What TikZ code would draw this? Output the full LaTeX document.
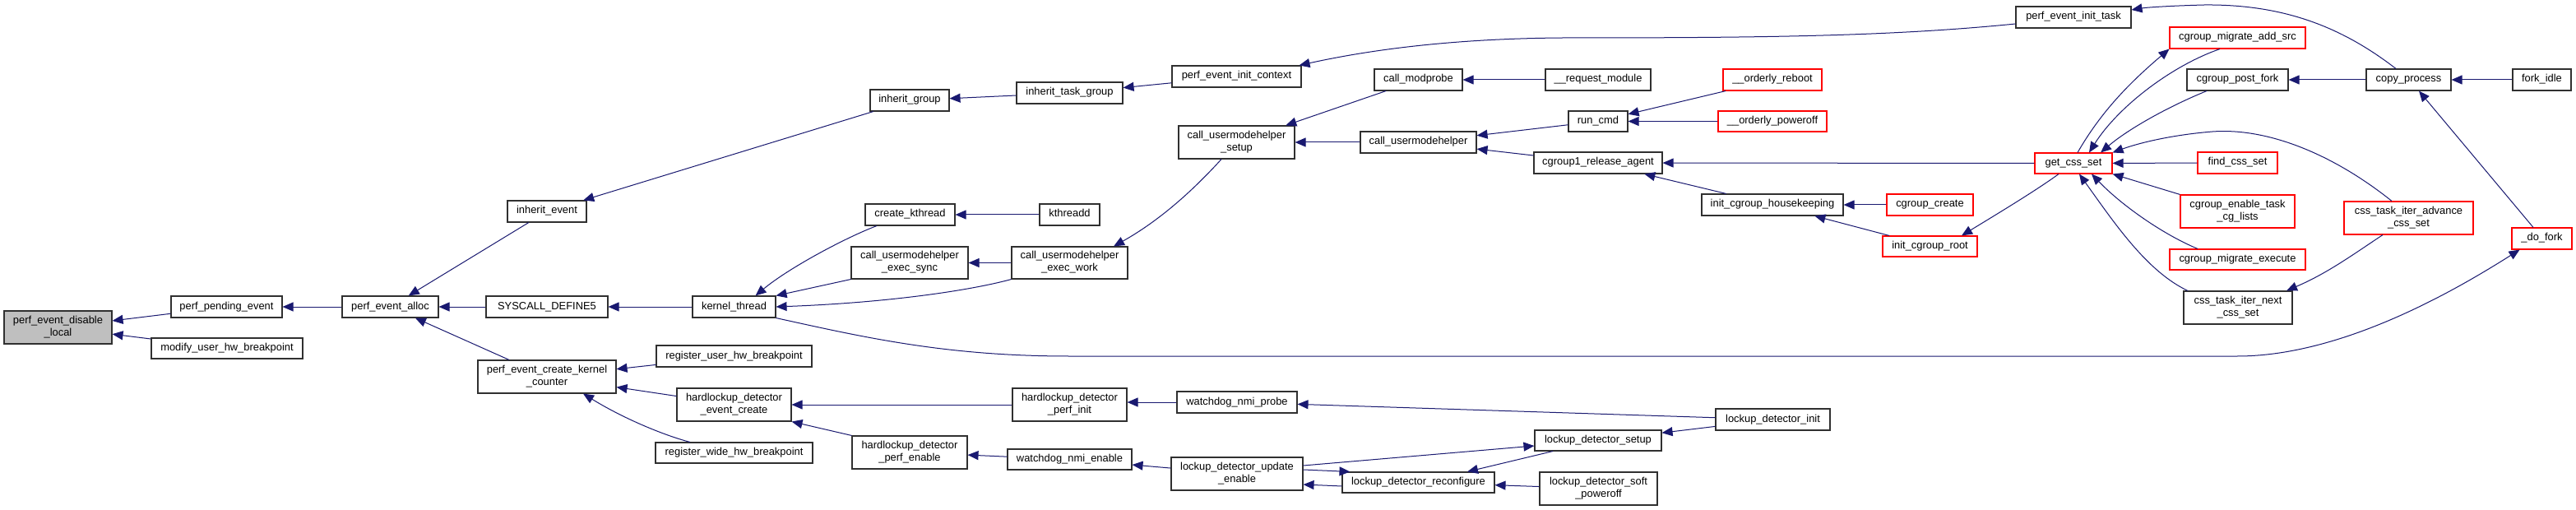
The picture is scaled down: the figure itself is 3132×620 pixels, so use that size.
\documentclass[tikz,border=0pt]{standalone}
\usepackage{fontspec}
\setmainfont{Liberation Sans}
\usetikzlibrary{arrows.meta,calc}
\definecolor{edgec}{HTML}{191970}
\definecolor{rootfill}{HTML}{BFBFBF}
\definecolor{boxline}{HTML}{303030}
\definecolor{redline}{HTML}{FF0000}
\newcommand\bx[7][]{%
  \node[box,#1,minimum width={(#5-#3)*1pt},minimum height={(#6-#4)*1pt}] (#2) at ({(#3+#5)/2},{(#4+#6)/2}) {\strut #7};}
\tikzset{
  box/.style={draw=boxline,fill=white,line width=1.1pt,inner sep=0pt,align=center,
    font=\fontsize{12.9}{15}\selectfont},
  root/.style={fill=rootfill},
  redbox/.style={draw=redline},
  arr/.style={draw=edgec,line width=1pt,-{Triangle[length=13pt,width=11pt]}}
}
\begin{document}
\begin{tikzpicture}[x=1pt,y=-1pt]
\useasboundingbox (0,0) rectangle (3132,620);
\fill[white] (0,0) rectangle (3132,620);
% nodes
\bx[root]{pedl}{5}{378}{136}{418}{perf\_event\_disable\\\strut\_local}
\bx{ppe}{208}{360}{343}{386}{perf\_pending\_event}
\bx{muhb}{184}{411}{368}{436}{modify\_user\_hw\_breakpoint}
\bx{pea}{416}{360}{533}{386}{perf\_event\_alloc}
\bx{ie}{617}{244}{713}{270}{inherit\_event}
\bx{sd5}{591}{360}{739}{386}{SYSCALL\_DEFINE5}
\bx{kt}{842}{360}{943}{386}{kernel\_thread}
\bx{peckc}{581}{438}{749}{478}{perf\_event\_create\_kernel\\\strut\_counter}
\bx{ruhb}{798}{420}{987}{446}{register\_user\_hw\_breakpoint}
\bx{hdec}{823}{472}{962}{512}{hardlockup\_detector\\\strut\_event\_create}
\bx{rwhb}{797}{538}{988}{563}{register\_wide\_hw\_breakpoint}
\bx{ig}{1058}{109}{1154}{135}{inherit\_group}
\bx{itg}{1236}{100}{1365}{126}{inherit\_task\_group}
\bx{peic}{1425}{80}{1582}{106}{perf\_event\_init\_context}
\bx{cuhs}{1433}{153}{1574}{193}{call\_usermodehelper\\\strut\_setup}
\bx{ck}{1052}{248}{1161}{274}{create\_kthread}
\bx{kd}{1264}{248}{1337}{274}{kthreadd}
\bx{cues}{1035}{300}{1177}{339}{call\_usermodehelper\\\strut\_exec\_sync}
\bx{cuew}{1230}{300}{1371}{339}{call\_usermodehelper\\\strut\_exec\_work}
\bx{hdpi}{1231}{472}{1370}{512}{hardlockup\_detector\\\strut\_perf\_init}
\bx{wnp}{1431}{476}{1577}{502}{watchdog\_nmi\_probe}
\bx{hdpe}{1036}{530}{1176}{570}{hardlockup\_detector\\\strut\_perf\_enable}
\bx{wne}{1225}{546}{1376}{571}{watchdog\_nmi\_enable}
\bx{ldue}{1424}{556}{1584}{596}{lockup\_detector\_update\\\strut\_enable}
\bx{cm}{1671}{84}{1778}{110}{call\_modprobe}
\bx{rm}{1879}{84}{2007}{110}{\_\_request\_module}
\bx{cu}{1654}{160}{1795}{186}{call\_usermodehelper}
\bx{rc}{1907}{135}{1979}{160}{run\_cmd}
\bx{cra}{1865}{185}{2021}{211}{cgroup1\_release\_agent}
\bx{ich}{2069}{236}{2241}{262}{init\_cgroup\_housekeeping}
\bx{lds}{1866}{523}{2020}{548}{lockup\_detector\_setup}
\bx{ldr}{1632}{574}{1817}{599}{lockup\_detector\_reconfigure}
\bx{ldsp}{1872}{574}{2015}{614}{lockup\_detector\_soft\\\strut\_poweroff}
\bx{ldi}{2086}{497}{2225}{523}{lockup\_detector\_init}
\bx{peit}{2451}{8}{2591}{34}{perf\_event\_init\_task}
\bx[redbox]{orb}{2095}{84}{2215}{110}{\_\_orderly\_reboot}
\bx[redbox]{opo}{2089}{135}{2221}{160}{\_\_orderly\_poweroff}
\bx[redbox]{gcs}{2474}{186}{2568}{211}{get\_css\_set}
\bx[redbox]{cc}{2294}{236}{2399}{262}{cgroup\_create}
\bx[redbox]{icr}{2289}{287}{2404}{312}{init\_cgroup\_root}
\bx[redbox]{cmas}{2638}{33}{2803}{59}{cgroup\_migrate\_add\_src}
\bx{cpf}{2659}{84}{2782}{110}{cgroup\_post\_fork}
\bx{cp}{2877}{84}{2980}{110}{copy\_process}
\bx{fi}{3055}{84}{3126}{110}{fork\_idle}
\bx[redbox]{fcs}{2672}{185}{2769}{211}{find\_css\_set}
\bx[redbox]{cetcl}{2651}{237}{2790}{277}{cgroup\_enable\_task\\\strut\_cg\_lists}
\bx[redbox]{ctiacs}{2850}{245}{3007}{285}{css\_task\_iter\_advance\\\strut\_css\_set}
\bx[redbox]{df}{3054}{277}{3127}{303}{\_do\_fork}
\bx[redbox]{cme}{2638}{303}{2803}{328}{cgroup\_migrate\_execute}
\bx{ctincs}{2655}{354}{2787}{394}{css\_task\_iter\_next\\\strut\_css\_set}
% edges
\draw[arr] (ppe) -- (pedl);
\draw[arr] (muhb) -- (pedl);
\draw[arr] (pea) -- (ppe);
\draw[arr] (ie) -- (pea);
\draw[arr] (sd5) -- (pea);
\draw[arr] (peckc) -- (pea);
\draw[arr] (ig) -- (ie);
\draw[arr] (kt) -- (sd5);
\draw[arr] (ruhb) -- (peckc);
\draw[arr] (hdec) -- (peckc);
\draw[arr] ($(rwhb.north)+(-53.5,0)$) .. controls (810,530) and (760,510) .. ($(peckc.south)+(44,0)$);
\draw[arr] ($(ck.south)+(-40.5,0)$) .. controls (1030,288) and (960,325) .. ($(kt.north)+(26,0)$);
\draw[arr] (cues.south west) -- (kt.north east);
\draw[arr] (cuew.south west) .. controls (1180,353) and (1080,368) .. (kt.east);
\draw[arr] (kt.south east) .. controls (1050,410) and (1150,433) .. (1300,433) -- (2720,433) .. controls (2850,433) and (2990,350) .. ($(df.south)+(-27,0)$);
\draw[arr] (kd) -- (ck);
\draw[arr] (cuew) -- (cues);
\draw[arr] ($(cuhs.south)+(-18.5,0)$) .. controls (1450,232) and (1410,268) .. ($(cuew.north)+(53.5,0)$);
\draw[arr] (peic) -- (itg);
\draw[arr] (itg) -- (ig);
\draw[arr] ($(peit.west)+(0,8)$) .. controls (2300,44) and (2150,46) .. (1900,46) .. controls (1750,47) and (1650,64) .. ($(peic.north east)+(-3,0)$);
\draw[arr] (cm) -- (cuhs);
\draw[arr] (cu) -- (cuhs);
\draw[arr] (rm) -- (cm);
\draw[arr] (rc) -- (cu);
\draw[arr] (cra) -- (cu);
\draw[arr] (orb) -- (rc);
\draw[arr] (opo) -- (rc);
\draw[arr] (gcs) -- (cra);
\draw[arr] (ich) -- (cra);
\draw[arr] (cc) -- (ich);
\draw[arr] (icr) -- (ich);
\draw[arr] ($(gcs.south)+(-18,0)$) .. controls (2475,232) and (2425,262) .. ($(icr.north)+(38.5,0)$);
\draw[arr] (wnp.west) -- (wnp.west -| hdpi.east);
\draw[arr] (hdpi) -- (hdec);
\draw[arr] (hdpe.north west) -- (hdec.south east);
\draw[arr] (wne) -- (hdpe);
\draw[arr] (ldue) -- (wne);
\draw[arr] (ldi) -- (wnp);
\draw[arr] (ldi) -- (lds);
\draw[arr] ($(ldue.east)+(0,-10)$) -- ($(lds.west)+(0,6.5)$);
\draw[arr] ($(ldue.east)+(0,-5)$) -- ($(ldr.north west)+(10,0)$);
\draw[arr] ($(ldr.west)+(0,4.5)$) -- ($(ldue.east)+(0,13)$);
\draw[arr] ($(lds.south)+(-55,0)$) -- ($(ldr.north)+(59.5,0)$);
\draw[arr] (ldsp) -- (ldr);
% get_css_set cluster
\draw[arr] ($(gcs.north)+(5,0)$) .. controls (2555,135) and (2590,100) .. (cmas.south west);
\draw[arr] ($(cmas.south)+(-21.5,0)$) .. controls (2640,80) and (2575,130) .. ($(gcs.north)+(19,0)$);
\draw[arr] ($(cpf.south)+(-37.5,0)$) .. controls (2640,128) and (2590,155) .. ($(gcs.north)+(33,0)$);
\draw[arr] ($(ctiacs.north)+(-20.5,0)$) .. controls (2840,190) and (2760,155) .. (2690,160) .. controls (2640,164) and (2600,174) .. (gcs.north east);
\draw[arr] (fcs) -- (gcs);
\draw[arr] (cetcl.north west) -- (gcs.south east);
\draw[arr] ($(cme.north)+(-48.5,0)$) .. controls (2630,285) and (2580,250) .. ($(gcs.south)+(22,0)$);
\draw[arr] ($(ctincs.north)+(-61,0)$) .. controls (2610,330) and (2570,270) .. ($(gcs.south)+(7,0)$);
\draw[arr] ($(ctiacs.south)+(-31.5,0)$) .. controls (2860,310) and (2830,332) .. ($(ctincs.north)+(59,0)$);
\draw[arr] (cp) -- (cpf);
\draw[arr] ($(cp.north)+(-15.5,0)$) .. controls (2850,35) and (2780,5) .. (2680,6) .. controls (2640,7) and (2610,9) .. ($(peit.east)+(0,-9)$);
\draw[arr] (fi) -- (cp);
\draw[arr] ($(df.north)+(-10.5,0)$) -- ($(cp.south)+(12.5,0)$);
\end{tikzpicture}
\end{document}
